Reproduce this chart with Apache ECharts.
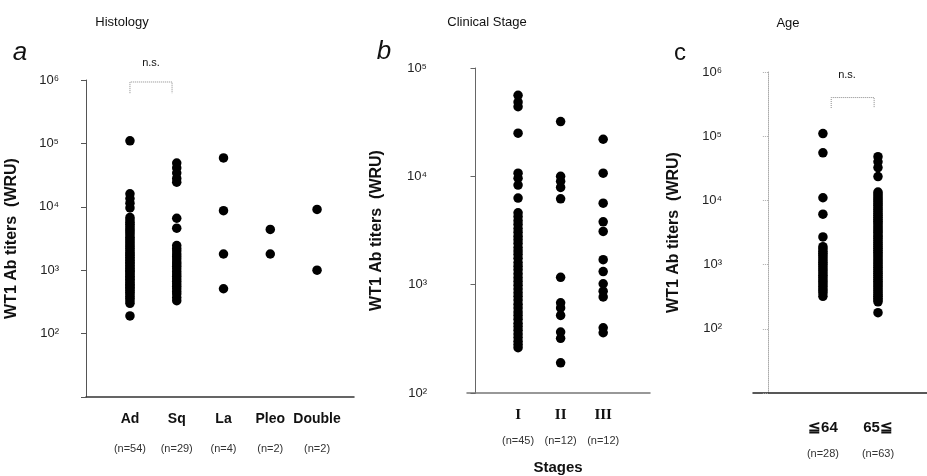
<!DOCTYPE html>
<html lang="en">
    <head>
        <meta charset="UTF-8" />
        <title>WT1 Ab titers</title>
        <script src="https://cdn.jsdelivr.net/npm/echarts@6.0.0/dist/echarts.min.js"></script>
        <style>
            body,
            html {
                margin: 0;
                padding: 0;
                width: 100%;
                height: 100%;
                overflow: hidden;
                background-color: #fff;
            }
            #main {
                width: 927px;
                height: 476px;
            }
        </style>
    </head>
    <body>
        <div id="main"></div>
        <script>
            // panel a: histology
            const histCats = ["Ad", "Sq", "La", "Pleo", "Double"]
            const histN = [54, 29, 4, 2, 2]
            const adValues = [
                110000, 16000, 13500, 11400, 9600, 6800, 6200, 5700, 5300, 4900, 4500, 4200, 3900, 3600, 3300, 3100, 2900,
                2700, 2500, 2350, 2200, 2050, 1900, 1800, 1700, 1600, 1500, 1420, 1340, 1260, 1190, 1120, 1060, 1000, 950,
                900, 850, 800, 760, 720, 680, 640, 600, 570, 540, 510, 480, 450, 420, 390, 360, 330, 300, 190,
            ]
            const sqValues = [
                49000, 41000, 34000, 28000, 24500, 6600, 4600, 2450, 2200, 2000, 1800, 1650, 1500, 1350, 1250, 1150, 1050,
                950, 870, 800, 730, 670, 610, 560, 510, 460, 420, 370, 330,
            ]
            const laValues = [59000, 8700, 1800, 510]
            const pleoValues = [4400, 1800]
            const doubleValues = [9100, 1000]

            // panel b: clinical stage
            const stageCats = ["I", "II", "III"]
            const stageN = [45, 12, 12]
            const stage1Values = [
                56000, 48500, 44000, 25000, 10700, 9600, 8300, 6300, 4600, 4250, 3900, 3600, 3300, 3050, 2800, 2600, 2400,
                2200, 2050, 1900, 1750, 1600, 1480, 1370, 1260, 1160, 1070, 990, 910, 840, 780, 720, 660, 610, 560, 520,
                480, 440, 410, 380, 350, 325, 300, 280, 262,
            ]
            const stage2Values = [32000, 10000, 9000, 7900, 6200, 1170, 680, 610, 520, 365, 320, 190]
            const stage3Values = [22000, 10700, 5650, 3800, 3100, 1700, 1320, 1020, 870, 770, 400, 360]

            // panel c: age
            const ageCats = ["≦64", "65≦"]
            const ageN = [28, 63]
            const youngValues = [
                110000, 55000, 11000, 6100, 2700, 1900, 1760, 1620, 1500, 1390, 1280, 1180, 1090, 1010, 930, 860, 800,
                740, 680, 630, 580, 540, 500, 460, 420, 390, 360, 320,
            ]
            const oldValues = [
                48000, 40000, 32500, 23500, 13500, 12600, 11700, 10900, 10200, 9500, 8900, 8300, 7700, 7200, 6700, 6250,
                5850, 5450, 5100, 4750, 4450, 4150, 3850, 3600, 3350, 3150, 2900, 2720, 2540, 2370, 2210, 2060, 1920,
                1790, 1670, 1560, 1460, 1360, 1270, 1180, 1100, 1030, 960, 900, 840, 780, 730, 680, 635, 590, 550, 515,
                480, 450, 420, 390, 365, 340, 320, 300, 280, 263, 178,
            ]

            // n.s. brackets, in data units [x, y]
            const histBracket = [
                [1, 620000],
                [1, 930000],
                [1.9, 930000],
                [1.9, 620000],
            ]
            const ageBracket = [
                [1.15, 275000],
                [1.15, 400000],
                [1.93, 400000],
                [1.93, 275000],
            ]

            const font = "Liberation Sans, Arial, sans-serif"
            const sup = ["⁰", "¹", "²", "³", "⁴", "⁵", "⁶"]
            const myChart = echarts.init(document.getElementById("main"))

            function yAxis(gridIndex, min, max, pad, nameGap, lineStyle) {
                return {
                    gridIndex: gridIndex,
                    type: "log",
                    logBase: 10,
                    min: min,
                    max: max,
                    name: "WT1 Ab titers  (WRU)",
                    nameLocation: "middle",
                    nameGap: nameGap,
                    nameTextStyle: { fontFamily: font, fontSize: 16, fontWeight: "bold", color: "#111" },
                    axisLine: { show: true, lineStyle: lineStyle },
                    axisTick: { show: true, length: 5, lineStyle: lineStyle },
                    minorTick: { show: false },
                    splitLine: { show: false },
                    axisLabel: {
                        margin: pad[0],
                        padding: [pad[1], 0, 0, 0],
                        fontFamily: font,
                        fontSize: 13,
                        color: "#222",
                        formatter: (v) => {
                            const e = Math.round(Math.log10(v))
                            return e < 2 ? "" : "10" + sup[e]
                        },
                    },
                }
            }

            function xAxis(gridIndex, min, max, cats, ns, margin, lh, catStyle, lineStyle) {
                return {
                    gridIndex: gridIndex,
                    type: "value",
                    min: min,
                    max: max,
                    axisLine: { show: true, onZero: false, lineStyle: lineStyle },
                    axisTick: { show: false },
                    splitLine: { show: false },
                    axisLabel: {
                        customValues: cats.map((c, i) => i + 1),
                        margin: margin,
                        formatter: (v) => {
                            const i = Math.round(v) - 1
                            if (i < 0 || i >= cats.length) return ""
                            return "{c|" + cats[i] + "}\n{n|(n=" + ns[i] + ")}"
                        },
                        rich: {
                            c: Object.assign({ lineHeight: lh, color: "#111" }, catStyle),
                            n: { fontFamily: font, fontSize: 11, lineHeight: lh, color: "#333" },
                        },
                    },
                }
            }

            function dots(xi, cat, values) {
                return {
                    type: "scatter",
                    xAxisIndex: xi,
                    yAxisIndex: xi,
                    symbol: "circle",
                    symbolSize: 9.5,
                    itemStyle: { color: "#000", opacity: 1 },
                    data: values.map((v) => [cat, v]),
                }
            }

            function bracket(xi, points) {
                return {
                    type: "line",
                    xAxisIndex: xi,
                    yAxisIndex: xi,
                    symbol: "none",
                    silent: true,
                    lineStyle: { color: "#888", width: 1, type: "dotted" },
                    data: points,
                }
            }

            const label = (x, y, text, size, style) => ({
                type: "text",
                x: x,
                y: y,
                style: Object.assign(
                    {
                        text: text,
                        fontFamily: font,
                        fontSize: size,
                        fill: "#111",
                        align: "center",
                        verticalAlign: "middle",
                        textAlign: "center",
                        textVerticalAlign: "middle",
                    },
                    style || {}
                ),
            })

            const option = {
                animation: false,
                grid: [
                    { left: 86, top: 80, width: 268, height: 317, outerBoundsMode: "none" },
                    { left: 467, top: 68, width: 183, height: 325, outerBoundsMode: "none" },
                    { left: 753, top: 72, width: 174, height: 321, outerBoundsMode: "none" },
                ],
                xAxis: [
                    xAxis(0, 0.06, 5.79, histCats, histN, 7, 30, { fontFamily: font, fontSize: 14, fontWeight: "bold" }, {
                        color: "#333",
                        width: 1.5,
                    }),
                    xAxis(1, -0.2, 4.1, stageCats, stageN, 9, 26, { fontFamily: "Liberation Serif, serif", fontSize: 15, fontWeight: "bold" }, {
                        color: "#777",
                        width: 1.5,
                    }),
                    xAxis(2, -0.27, 2.89, ageCats, ageN, 22, 26, { fontFamily: font, fontSize: 15, fontWeight: "bold" }, {
                        color: "#222",
                        width: 1.5,
                    }),
                ],
                yAxis: [
                    yAxis(0, 10, 1000000, [27, 10], 66, { color: "#555", width: 1 }),
                    yAxis(1, 100, 100000, [40, 16], 82, { color: "#666", width: 1 }),
                    yAxis(2, 10, 1000000, [31, 12], 71, { color: "#aaa", width: 1, type: "dotted" }),
                ],
                series: [
                    dots(0, 1, adValues),
                    dots(0, 2, sqValues),
                    dots(0, 3, laValues),
                    dots(0, 4, pleoValues),
                    dots(0, 5, doubleValues),
                    bracket(0, histBracket),
                    dots(1, 1, stage1Values),
                    dots(1, 2, stage2Values),
                    dots(1, 3, stage3Values),
                    dots(2, 1, youngValues),
                    dots(2, 2, oldValues),
                    bracket(2, ageBracket),
                ],
                graphic: [
                    label(122, 22, "Histology", 13),
                    label(487, 22, "Clinical Stage", 13),
                    label(788, 23, "Age", 13),
                    label(20, 53, "a", 26, { fontStyle: "italic" }),
                    label(384, 52, "b", 26, { fontStyle: "italic" }),
                    label(680, 53, "c", 24),
                    label(151, 63, "n.s.", 11),
                    label(847, 75, "n.s.", 11),
                    label(558, 468, "Stages", 15, { fontWeight: "bold" }),
                ],
            }
            myChart.setOption(option)
        </script>
    </body>
</html>
